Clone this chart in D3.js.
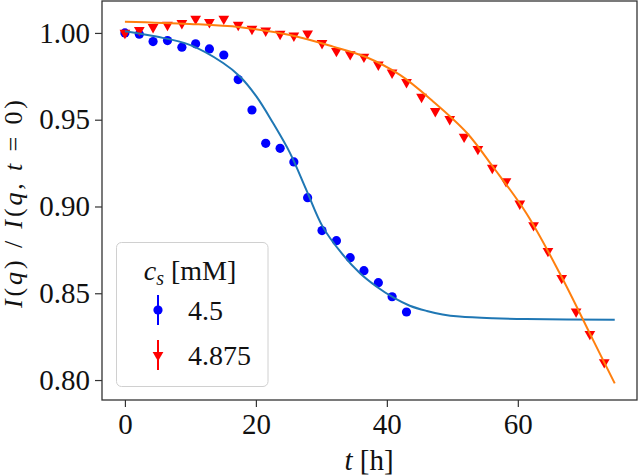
<!DOCTYPE html>
<html>
<head>
<meta charset="utf-8">
<script src="https://cdn.jsdelivr.net/npm/d3@7"></script>
<style>
  body { margin: 0; background: #fff; }
  svg, svg text { font-family: "Liberation Serif", "Times New Roman", "DejaVu Serif", serif; }
</style>
</head>
<body>
<div id="chart"></div>
<script>
// measured data, cs = 4.5 mM (circles)
var t45 = [0, 2.2, 4.3, 6.5, 8.7, 10.8, 12.9, 15.1, 17.3, 19.4, 21.5, 23.7, 25.8, 27.9, 30.1, 32.3, 34.4, 36.5, 38.7, 40.8, 43.0];
var v45 = [1.000, 0.9993, 0.995, 0.9956, 0.9918, 0.9937, 0.9908, 0.9873, 0.9731, 0.9556, 0.9364, 0.9335, 0.9257, 0.9051, 0.8861, 0.8803, 0.8705, 0.8630, 0.8561, 0.8480, 0.8392];

// measured data, cs = 4.875 mM (triangles)
var t4875 = [0, 2.2, 4.3, 6.5, 8.7, 10.8, 12.9, 15.1, 17.3, 19.4, 21.5, 23.7, 25.8, 27.9, 30.1, 32.3, 34.4, 36.5, 38.7, 40.8, 43.0,
             45.3, 47.4, 49.6, 51.8, 53.9, 56.1, 58.2, 60.3, 62.4, 64.6, 66.7, 68.9, 71.0, 73.2];
var v4875 = [1.000, 1.0017, 1.0033, 1.0046, 1.0056, 1.0081, 1.0062, 1.0081, 1.0046, 1.0023, 1.0013, 0.9994, 0.9984, 0.9996, 0.9941,
             0.9896, 0.9877, 0.9862, 0.9817, 0.9771, 0.9716, 0.9631, 0.9549, 0.9503, 0.9401, 0.9331, 0.9222, 0.9145, 0.9016, 0.8892,
             0.8743, 0.8588, 0.8394, 0.8265, 0.8102];

// fit curves
var fitT45 = [0, 4.8, 9.9, 15.0, 17.6, 20.1, 22.6, 25.2, 27.7, 30.2, 33.0, 35.9, 38.4, 41.1, 43.5, 46.1, 48.5, 51.1, 56.2, 61.3, 74.8];
var fitV45 = [1.001, 0.9979, 0.9931, 0.9827, 0.9748, 0.9633, 0.9482, 0.9309, 0.9096, 0.8884, 0.8735, 0.8615, 0.8539, 0.8473, 0.8428, 0.8398, 0.8378, 0.8366, 0.8356, 0.8351, 0.8347];
var fitT4875 = [0, 9.9, 17.6, 25.2, 31.8, 36.9, 42.0, 47.1, 52.2, 56.2, 61.3, 66.4, 71.5, 74.8];
var fitV4875 = [1.0065, 1.0052, 1.0033, 0.9988, 0.9921, 0.9860, 0.9758, 0.9604, 0.9425, 0.9229, 0.8961, 0.8615, 0.8230, 0.7981];

var xTicks = [0, 20, 40, 60];
var yTicks = [0.80, 0.85, 0.90, 0.95, 1.00];
var legendLabels = ["4.5", "4.875"];

var W = 640, H = 475;
var margin = {top: 1, right: 3, bottom: 75, left: 102};
var serif = "'Liberation Serif', 'Times New Roman', 'DejaVu Serif', serif";

var svg = d3.select("#chart").append("svg")
    .attr("width", W)
    .attr("height", H)
    .attr("font-family", serif);

var x = d3.scaleLinear().domain([-3.5, 78.2]).range([margin.left, W - margin.right]);
var y = d3.scaleLinear().domain([0.7885, 1.0184]).range([H - margin.bottom, margin.top]);

// axes
var xAxis = svg.append("g")
    .attr("transform", "translate(0," + (H - margin.bottom) + ")")
    .call(d3.axisBottom(x).tickValues(xTicks).tickSize(7).tickPadding(6).tickFormat(d3.format("d")));
var yAxis = svg.append("g")
    .attr("transform", "translate(" + margin.left + ",0)")
    .call(d3.axisLeft(y).tickValues(yTicks).tickSize(7).tickPadding(5).tickFormat(d3.format(".2f")));

[xAxis, yAxis].forEach(function (g) {
    g.attr("font-family", serif).attr("font-size", 29);
    g.select(".domain").remove();
    g.selectAll(".tick line").attr("stroke", "#333").attr("stroke-width", 1.2);
    g.selectAll(".tick text").attr("fill", "#111");
});

// frame
svg.append("rect")
    .attr("x", x.range()[0])
    .attr("y", y.range()[1])
    .attr("width", x.range()[1] - x.range()[0])
    .attr("height", y.range()[0] - y.range()[1])
    .attr("fill", "none")
    .attr("stroke", "#333")
    .attr("stroke-width", 1.3);

var plot = svg.append("g");

// circles
plot.selectAll(".c45")
    .data(t45.map(function (t, i) { return {t: t, v: v45[i]}; }))
    .enter().append("circle")
    .attr("cx", function (d) { return x(d.t); })
    .attr("cy", function (d) { return y(d.v); })
    .attr("r", 4.6)
    .attr("fill", "#0000ff");

// triangles (pointing down)
var tri = d3.symbol().type(d3.symbolTriangle).size(50);
plot.selectAll(".c4875")
    .data(t4875.map(function (t, i) { return {t: t, v: v4875[i]}; }))
    .enter().append("path")
    .attr("d", tri)
    .attr("transform", function (d) { return "translate(" + x(d.t) + "," + y(d.v) + ") rotate(180)"; })
    .attr("fill", "#ff0000");

// fit lines
var line = d3.line()
    .x(function (d) { return x(d.t); })
    .y(function (d) { return y(d.v); })
    .curve(d3.curveCatmullRom.alpha(0.5));

plot.append("path")
    .datum(fitT45.map(function (t, i) { return {t: t, v: fitV45[i]}; }))
    .attr("d", line)
    .attr("fill", "none")
    .attr("stroke", "#1f77b4")
    .attr("stroke-width", 2);

plot.append("path")
    .datum(fitT4875.map(function (t, i) { return {t: t, v: fitV4875[i]}; }))
    .attr("d", line)
    .attr("fill", "none")
    .attr("stroke", "#ff7f0e")
    .attr("stroke-width", 2);

// axis labels
var xl = svg.append("text")
    .attr("x", 369)
    .attr("y", 470)
    .attr("text-anchor", "middle")
    .attr("font-size", 29)
    .attr("fill", "#111");
xl.append("tspan").attr("font-style", "italic").text("t");
xl.append("tspan").text(" [h]");

var yl = svg.append("text")
    .attr("transform", "translate(22,204) rotate(-90)")
    .attr("text-anchor", "middle")
    .attr("font-size", 26)
    .attr("textLength", 208)
    .attr("lengthAdjust", "spacing")
    .attr("fill", "#111");
[["I", true], ["(", false], ["q", true], [") / ", false], ["I", true], ["(", false], ["q", true], [", ", false], ["t", true], [" = 0)", false]]
    .forEach(function (p) {
        yl.append("tspan").attr("font-style", p[1] ? "italic" : "normal").text(p[0]);
    });

// legend
var leg = svg.append("g");
leg.append("rect")
    .attr("x", 116.5).attr("y", 242.5)
    .attr("width", 151.5).attr("height", 144)
    .attr("rx", 5)
    .attr("fill", "#fff").attr("fill-opacity", 0.8)
    .attr("stroke", "#d0d0d0");

var title = leg.append("text")
    .attr("x", 190).attr("y", 280)
    .attr("text-anchor", "middle")
    .attr("font-size", 28)
    .attr("fill", "#111");
title.append("tspan").attr("font-style", "italic").text("c");
title.append("tspan").attr("font-style", "italic").attr("font-size", 20).attr("dy", 5).text("s");
title.append("tspan").attr("dy", -5).text(" [mM]");

var entryY = [310, 355];
var colors = ["#0000ff", "#ff0000"];
legendLabels.forEach(function (lab, i) {
    var cy = entryY[i];
    leg.append("line")
        .attr("x1", 158).attr("x2", 158)
        .attr("y1", cy - 15).attr("y2", cy + 15)
        .attr("stroke", colors[i]).attr("stroke-width", 2);
    if (i === 0) {
        leg.append("circle").attr("cx", 158).attr("cy", cy).attr("r", 4.6).attr("fill", colors[i]);
    } else {
        leg.append("path").attr("d", tri)
            .attr("transform", "translate(158," + cy + ") rotate(180)")
            .attr("fill", colors[i]);
    }
    leg.append("text")
        .attr("x", 188).attr("y", cy + 10)
        .attr("font-size", 28)
        .attr("fill", "#111")
        .text(lab);
});
</script>
</body>
</html>
